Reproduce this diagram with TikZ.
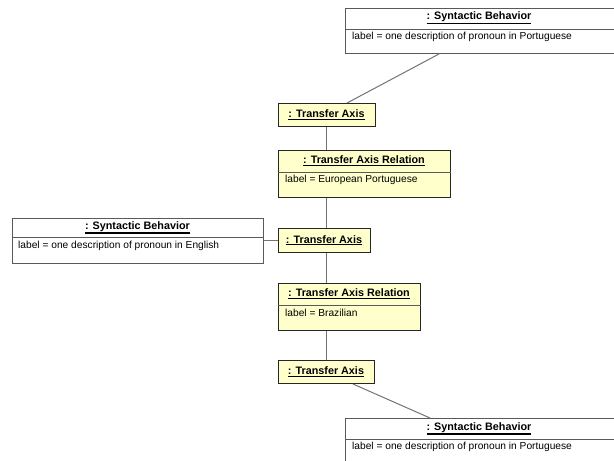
\documentclass[tikz,border=0pt]{standalone}
\usepackage{fontspec}
\setmainfont{Liberation Sans}
\usetikzlibrary{calc}
\definecolor{tayellow}{HTML}{FFFFCC}
\newcommand\ulttl[1]{\vtop{\hbox{#1}\kern0.9pt\hrule height 1.1pt}}
\begin{document}
\begin{tikzpicture}[x=1pt,y=-1pt,
 tabox/.style={draw=black!85, fill=tayellow, line width=1pt, anchor=north west, inner sep=0pt},
 sbbox/.style={draw=black!65, fill=white, line width=1pt, anchor=north west, inner sep=0pt},
 ttl/.style={font=\fontsize{10.8}{13}\selectfont\bfseries, inner sep=0pt},
 lbl/.style={font=\fontsize{10.2}{12}\selectfont, inner sep=0pt, anchor=west},
 conn/.style={draw=black!55, line width=1pt},
 divl/.style={draw=black!65, line width=1pt}]
\useasboundingbox (0,0) rectangle (614,461);
% boxes
\node[sbbox, minimum width=272, minimum height=45] (SB1) at (345,8) {};
\node[ttl] (SB1t) at (479,18) {\ulttl{: Syntactic Behavior}};
\draw[divl] (SB1.west |- 0,29) -- (SB1.east |- 0,29);
\node[lbl] (SB1l) at (352,37) {label = one description of pronoun in Portuguese};

\node[tabox, minimum width=97, minimum height=23] (TA1) at (278,103) {};
\node[ttl] (TA1t) at (326.5,115) {\ulttl{: Transfer Axis}};

\node[tabox, minimum width=172, minimum height=47] (TAR1) at (278,150) {};
\node[ttl] (TAR1t) at (364,161) {\ulttl{: Transfer Axis Relation}};
\draw[divl] (TAR1.west |- 0,172) -- (TAR1.east |- 0,172);
\node[lbl] (TAR1l) at (285,180) {label = European Portuguese};

\node[sbbox, minimum width=251, minimum height=45] (SBL) at (12,218) {};
\node[ttl] (SBLt) at (137.5,227.5) {\ulttl{: Syntactic Behavior}};
\draw[divl] (SBL.west |- 0,237) -- (SBL.east |- 0,237);
\node[lbl] (SBLl) at (18,246) {label = one description of pronoun in English};

\node[tabox, minimum width=92, minimum height=24] (TA2) at (278,228) {};
\node[ttl] (TA2t) at (324,240.5) {\ulttl{: Transfer Axis}};

\node[tabox, minimum width=142, minimum height=47] (TAR2) at (278,283) {};
\node[ttl] (TAR2t) at (349,294) {\ulttl{: Transfer Axis Relation}};
\draw[divl] (TAR2.west |- 0,305) -- (TAR2.east |- 0,305);
\node[lbl] (TAR2l) at (285,313) {label = Brazilian};

\node[tabox, minimum width=96, minimum height=23] (TA3) at (278,360) {};
\node[ttl] (TA3t) at (326,372) {\ulttl{: Transfer Axis}};

\node[sbbox, minimum width=272, minimum height=45] (SB2) at (345,418) {};
\node[ttl] (SB2t) at (479,428.5) {\ulttl{: Syntactic Behavior}};
\draw[divl] (SB2.west |- 0,439) -- (SB2.east |- 0,439);
\node[lbl] (SB2l) at (352,447) {label = one description of pronoun in Portuguese};

% connectors
\coordinate (vx) at (326,0);
\draw[conn] ($(SB1.south west)+(94,0)$) -- ($(TA1.north west)+(69,0)$);
\draw[conn] (TA1.south -| vx) -- (TAR1.north -| vx);
\draw[conn] (TAR1.south -| vx) -- (TA2.north -| vx);
\draw[conn] (SBL.east |- TA2.west) -- (TA2.west);
\draw[conn] (TA2.south -| vx) -- (TAR2.north -| vx);
\draw[conn] (TAR2.south -| vx) -- (TA3.north -| vx);
\draw[conn] ($(TA3.south west)+(75,0)$) -- ($(SB2.north west)+(85,0)$);
\end{tikzpicture}
\end{document}
